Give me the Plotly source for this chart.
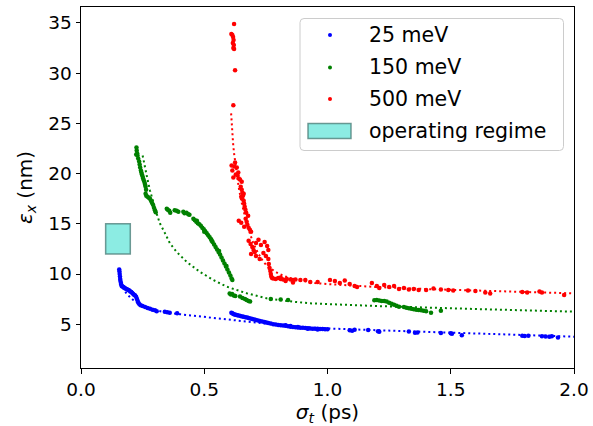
import plotly.graph_objects as go

# ---------------- data ----------------
# 25 meV: measured emittance vs bunch length
b_x = [0.155, 0.156, 0.157, 0.158, 0.159, 0.160, 0.162, 0.163, 0.165, 0.168, 0.172, 0.176, 0.180,
       0.184, 0.188, 0.192, 0.196, 0.200, 0.204, 0.208, 0.212, 0.216, 0.220, 0.224, 0.227, 0.230,
       0.233, 0.237, 0.242, 0.250, 0.260, 0.270, 0.280, 0.290, 0.300, 0.307, 0.340, 0.350, 0.360, 0.390,
       0.610, 0.614, 0.618, 0.623, 0.628, 0.634, 0.640, 0.647, 0.654, 0.660, 0.667, 0.674, 0.680,
       0.688, 0.695, 0.703, 0.710, 0.718, 0.726, 0.735, 0.744, 0.752, 0.760, 0.770, 0.780, 0.790,
       0.800, 0.810, 0.820, 0.830, 0.840, 0.850, 0.860, 0.870, 0.880, 0.890, 0.900, 0.910, 0.920,
       0.930, 0.940, 0.950, 0.960, 0.970, 0.980, 0.990, 1.000, 0.830, 0.850, 0.880, 0.920, 0.960,
       1.090, 1.100, 1.110, 1.165, 1.205, 1.210, 1.330, 1.355, 1.365, 1.460, 1.500, 1.505, 1.545,
       1.790, 1.800, 1.815, 1.870, 1.885, 1.900, 1.910, 1.935]
b_y = [10.45, 10.25, 10.0, 9.75, 9.5, 9.3, 9.1, 8.95, 8.8, 8.75, 8.7, 8.62, 8.55,
       8.5, 8.45, 8.4, 8.35, 8.25, 8.2, 8.1, 8.0, 7.92, 7.85, 7.7, 7.5, 7.3,
       7.15, 7.0, 6.9, 6.82, 6.72, 6.62, 6.55, 6.45, 6.38, 6.3, 6.25, 6.2, 6.15, 6.08,
       6.15, 6.08, 6.02, 5.98, 5.94, 5.9, 5.86, 5.82, 5.78, 5.74, 5.7, 5.66, 5.62,
       5.57, 5.52, 5.48, 5.43, 5.38, 5.33, 5.28, 5.22, 5.17, 5.12, 5.06, 5.0, 4.96,
       4.92, 4.9, 4.87, 4.84, 4.8, 4.76, 4.73, 4.7, 4.68, 4.66, 4.64, 4.62, 4.6,
       4.58, 4.56, 4.55, 4.54, 4.53, 4.52, 4.5, 4.5, 4.9, 4.82, 4.72, 4.55, 4.48,
       4.4, 4.36, 4.45, 4.42, 4.3, 4.25, 4.28, 4.15, 4.18, 4.12, 4.1, 4.05, 3.9,
       3.86, 3.82, 3.85, 3.8, 3.78, 3.76, 3.79, 3.68]
# 25 meV: model curve
b_fit_x = [0.158, 0.165, 0.175, 0.19, 0.21, 0.23, 0.25, 0.28, 0.31, 0.35, 0.40, 0.50, 0.60,
           0.70, 0.80, 0.90, 1.00, 1.20, 1.40, 1.60, 1.80, 2.00]
b_fit_y = [9.6, 8.9, 8.35, 7.9, 7.45, 7.1, 6.85, 6.55, 6.35, 6.15, 6.0, 5.72, 5.42,
           5.15, 4.92, 4.72, 4.58, 4.4, 4.25, 4.1, 3.92, 3.76]

# 150 meV: measured
g_x = [0.225, 0.226, 0.228, 0.224, 0.229, 0.232, 0.236, 0.238, 0.240, 0.243, 0.245, 0.247, 0.250,
       0.252, 0.255, 0.258, 0.260, 0.262, 0.264, 0.262, 0.265, 0.270, 0.275, 0.280, 0.284, 0.288,
       0.292, 0.296, 0.300, 0.303,
       0.348, 0.352, 0.358, 0.362, 0.380, 0.388, 0.395, 0.415, 0.420, 0.428, 0.435, 0.440,
       0.456, 0.462, 0.468, 0.474, 0.480, 0.486, 0.492, 0.498, 0.504, 0.510, 0.516, 0.522, 0.528,
       0.534, 0.540, 0.546, 0.552, 0.558, 0.564, 0.570, 0.576, 0.582, 0.588, 0.594, 0.600, 0.606,
       0.611, 0.614, 0.470, 0.500, 0.530, 0.560, 0.590,
       0.603, 0.608, 0.613, 0.620, 0.626, 0.645, 0.655, 0.665, 0.672, 0.680, 0.686, 0.770, 0.810, 0.840,
       1.190, 1.200, 1.210, 1.220, 1.230, 1.240, 1.250, 1.260, 1.270, 1.280, 1.290, 1.310, 1.320,
       1.330, 1.340, 1.350, 1.360, 1.370, 1.380, 1.390, 1.400, 1.420, 1.460]
g_y = [22.6, 22.3, 22.0, 21.9, 21.8, 21.5, 21.2, 20.9, 20.6, 20.3, 20.1, 19.9, 19.7,
       19.5, 19.3, 19.1, 18.9, 18.7, 18.4, 18.0, 17.8, 17.7, 17.6, 17.5, 17.3, 17.1,
       16.9, 16.6, 16.35, 16.15,
       16.5, 16.4, 16.3, 16.1, 16.35, 16.3, 16.2, 16.2, 16.05, 16.1, 15.95, 15.9,
       15.5, 15.35, 15.2, 15.05, 14.95, 14.8, 14.6, 14.45, 14.25, 14.05, 13.85, 13.65, 13.45,
       13.2, 12.95, 12.7, 12.45, 12.2, 11.95, 11.65, 11.35, 11.05, 10.75, 10.45, 10.15, 9.85,
       9.55, 9.4, 15.3, 14.2, 13.3, 12.3, 10.8,
       8.05, 7.95, 8.0, 7.85, 7.8, 7.75, 7.6, 7.5, 7.4, 7.3, 7.25, 7.5, 7.45, 7.42,
       7.38, 7.4, 7.35, 7.3, 7.32, 7.25, 7.15, 7.05, 6.95, 6.85, 6.75, 6.72, 6.65,
       6.6, 6.55, 6.5, 6.45, 6.42, 6.38, 6.33, 6.3, 6.15, 6.33]
# 150 meV: model curve
g_fit_x = [0.25, 0.26, 0.27, 0.28, 0.29, 0.30, 0.307, 0.32, 0.341, 0.361, 0.388, 0.429, 0.483,
           0.537, 0.591, 0.672, 0.753, 0.807, 0.861, 0.929, 1.21, 1.62, 2.00]
g_fit_y = [21.8, 20.5, 19.4, 18.3, 17.3, 16.6, 16.0, 15.05, 14.05, 13.05, 12.2, 11.2, 10.2,
           9.4, 8.74, 8.08, 7.58, 7.4, 7.24, 7.08, 6.8, 6.5, 6.25]

# 500 meV: measured
r_x = [0.621, 0.610, 0.614, 0.617, 0.619, 0.616, 0.620, 0.618, 0.621, 0.625, 0.618,
       0.611, 0.625, 0.632, 0.618, 0.638, 0.645, 0.652, 0.622, 0.628, 0.614, 0.635, 0.640,
       0.648, 0.652, 0.655, 0.657, 0.654, 0.660, 0.662, 0.664, 0.667, 0.670, 0.650, 0.660,
       0.640, 0.650, 0.668, 0.672, 0.675, 0.680, 0.685, 0.690, 0.662, 0.678,
       0.680, 0.688, 0.695, 0.700, 0.710, 0.720, 0.730, 0.745, 0.755, 0.760, 0.690, 0.710,
       0.725, 0.740, 0.750, 0.760, 0.705,
       0.762, 0.765, 0.768, 0.770, 0.772, 0.775, 0.780, 0.790, 0.800, 0.810, 0.820, 0.835,
       0.850, 0.860, 0.870,
       0.810, 0.830, 0.860, 0.890, 0.910, 0.930, 0.960, 1.010, 1.030, 1.050, 1.070, 1.090,
       1.110, 1.120, 1.180, 1.200, 1.210, 1.230, 1.250, 1.270, 1.290, 1.310, 1.330, 1.350,
       1.370, 1.400, 1.430, 1.460, 1.490, 1.510, 1.570, 1.600, 1.640, 1.660, 1.790, 1.810,
       1.860, 1.870, 1.960]
r_y = [34.9, 33.9, 33.8, 33.6, 33.3, 33.0, 32.8, 32.5, 32.4, 30.3, 26.8,
       20.8, 21.1, 20.6, 19.6, 20.1, 19.4, 19.2, 20.7, 19.9, 20.3, 19.8, 19.5,
       18.7, 18.4, 18.1, 17.8, 17.5, 17.3, 17.0, 16.7, 16.4, 16.1, 17.7, 18.0,
       15.3, 15.1, 15.5, 15.2, 14.9, 14.6, 14.4, 14.2, 14.7, 15.8,
       13.3, 13.0, 12.7, 12.4, 13.1, 13.4, 12.9, 13.2, 12.8, 12.4, 12.0, 11.8,
       11.5, 12.1, 11.8, 11.5, 12.2,
       11.0, 10.6, 10.3, 10.0, 9.75, 9.6, 9.55, 9.5, 9.6, 9.5, 9.45, 9.5,
       9.45, 9.4, 9.45,
       9.65, 9.3, 9.15, 9.4, 9.4, 9.2, 9.2, 9.4, 9.3, 9.1, 9.35, 9.0,
       8.8, 8.7, 9.1, 8.8, 8.6, 8.9, 8.7, 8.8, 8.5, 8.6, 8.45, 8.5,
       8.4, 8.4, 8.55, 8.45, 8.4, 8.35, 8.35, 8.3, 8.15, 8.05, 8.2, 8.15,
       8.25, 8.15, 7.9]
# 500 meV: model curve
r_fit_x = [0.609, 0.611, 0.614, 0.617, 0.621, 0.625, 0.630, 0.640, 0.650, 0.660, 0.670, 0.680,
           0.690, 0.700, 0.720, 0.740, 0.760, 0.780, 0.800, 0.830, 0.860, 0.900, 0.950, 1.000,
           1.100, 1.200, 1.400, 1.600, 1.800, 2.000]
r_fit_y = [26.0, 25.0, 24.0, 23.0, 22.0, 21.2, 20.2, 18.6, 17.3, 16.2, 15.2, 14.4,
           13.6, 13.0, 12.0, 11.2, 10.7, 10.35, 10.05, 9.75, 9.5, 9.3, 9.1, 9.0,
           8.85, 8.7, 8.5, 8.35, 8.2, 8.07]

# operating regime box
regime_x = [0.1, 0.2]
regime_y = [12, 15]

series_names = ["25 meV", "150 meV", "500 meV"]
series_colors = ["#0000ff", "#008000", "#ff0000"]
regime_label = "operating regime"

x_ticks = [0.0, 0.5, 1.0, 1.5, 2.0]
y_ticks = [5, 10, 15, 20, 25, 30, 35]
x_range = [0.0, 2.0]
y_range = [0.64, 36.59]

# ---------------- figure ----------------
W, H = 593, 426
ML, MR, MT, MB = 81, 19, 7, 58
PW, PH = W - ML - MR, H - MT - MB
FONT = "DejaVu Sans"

fig = go.Figure()

measured = [(b_x, b_y), (g_x, g_y), (r_x, r_y)]
model = [(b_fit_x, b_fit_y), (g_fit_x, g_fit_y), (r_fit_x, r_fit_y)]

for (fx, fy), color in zip(model, series_colors):
    fig.add_trace(go.Scatter(x=fx, y=fy, mode="lines",
                             line=dict(color=color, width=2, dash="2px,3px"),
                             showlegend=False, hoverinfo="skip"))

for (mx, my), color, name in zip(measured, series_colors, series_names):
    fig.add_trace(go.Scatter(x=mx, y=my, mode="markers", name=name,
                             marker=dict(color=color, size=4.5, line=dict(width=0)),
                             showlegend=False))

fig.add_shape(type="rect", xref="x", yref="y",
              x0=regime_x[0], x1=regime_x[1], y0=regime_y[0], y1=regime_y[1],
              fillcolor="rgba(64,224,208,0.6)",
              line=dict(color="rgba(70,120,115,0.75)", width=1.5))


# legend drawn in paper space (pixel helpers)
def px(xpix):
    return (xpix - ML) / PW


def py(ypix):
    return (H - MB - ypix) / PH


lx0, lx1, ly0, ly1, rad = 300, 563.5, 18.5, 150.5, 4
path = (f"M{px(lx0 + rad)},{py(ly0)} L{px(lx1 - rad)},{py(ly0)} "
        f"Q{px(lx1)},{py(ly0)} {px(lx1)},{py(ly0 + rad)} "
        f"L{px(lx1)},{py(ly1 - rad)} Q{px(lx1)},{py(ly1)} {px(lx1 - rad)},{py(ly1)} "
        f"L{px(lx0 + rad)},{py(ly1)} Q{px(lx0)},{py(ly1)} {px(lx0)},{py(ly1 - rad)} "
        f"L{px(lx0)},{py(ly0 + rad)} Q{px(lx0)},{py(ly0)} {px(lx0 + rad)},{py(ly0)} Z")
fig.add_shape(type="path", xref="paper", yref="paper", path=path,
              fillcolor="rgba(255,255,255,0.8)", line=dict(color="#cccccc", width=1))

row_y = [35, 67.5, 99, 131]
for yy, color, name in zip(row_y[:3], series_colors, series_names):
    fig.add_shape(type="circle", xref="paper", yref="paper",
                  x0=px(328), x1=px(332), y0=py(yy + 2), y1=py(yy - 2),
                  fillcolor=color, line=dict(width=0))
    fig.add_annotation(xref="paper", yref="paper", x=px(367), y=py(yy),
                       text=name, showarrow=False, xanchor="left", yanchor="middle",
                       font=dict(family=FONT, size=20.5, color="black"))
fig.add_shape(type="rect", xref="paper", yref="paper",
              x0=px(308), x1=px(351), y0=py(138.5), y1=py(123.5),
              fillcolor="rgba(64,224,208,0.6)",
              line=dict(color="rgba(70,120,115,0.75)", width=1.5))
fig.add_annotation(xref="paper", yref="paper", x=px(367), y=py(row_y[3]),
                   text=regime_label, showarrow=False, xanchor="left", yanchor="middle",
                   font=dict(family=FONT, size=20.5, color="black"))

axis_common = dict(showline=True, mirror=True, linecolor="black", linewidth=1,
                   ticks="outside", ticklen=4.5, tickwidth=1, tickcolor="black",
                   showgrid=False, zeroline=False,
                   tickfont=dict(family=FONT, size=18.5, color="black"))

fig.update_xaxes(range=x_range, tickvals=x_ticks, ticktext=[f"{v:.1f}" for v in x_ticks],
                 title=dict(text="<i>σ</i><sub><i>t</i></sub> (ps)", standoff=1,
                            font=dict(family=FONT, size=20, color="black")),
                 **axis_common)
fig.update_yaxes(range=y_range, tickvals=y_ticks, ticktext=[str(v) for v in y_ticks],
                 title=dict(text="<i>ε</i><sub><i>x</i></sub> (nm)", standoff=10,
                            font=dict(family=FONT, size=20, color="black")),
                 **axis_common)

fig.update_layout(width=W, height=H, margin=dict(l=ML, r=MR, t=MT, b=MB, autoexpand=False),
                  plot_bgcolor="white", paper_bgcolor="white", showlegend=False,
                  font=dict(family=FONT, color="black"))

fig.write_html("out.html")
